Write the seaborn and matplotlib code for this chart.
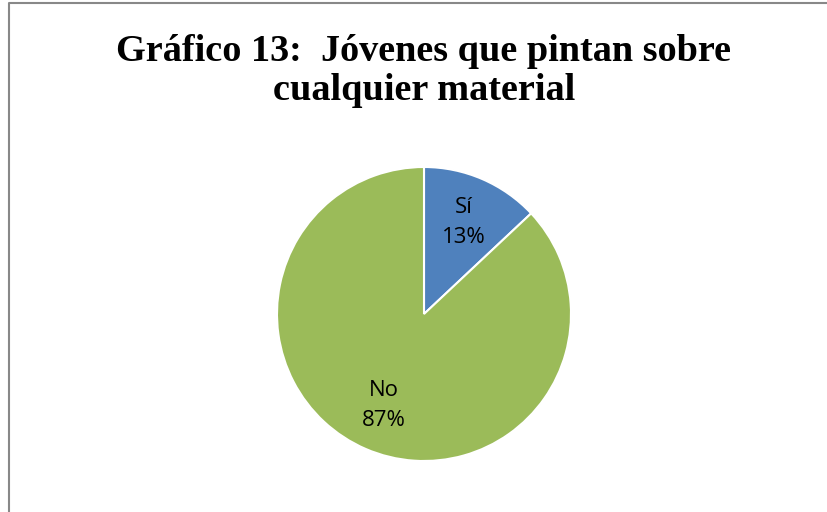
import matplotlib
matplotlib.use("Agg")
import matplotlib.pyplot as plt
from matplotlib.lines import Line2D
import seaborn as sns

categories = ["Sí", "No"]
values = [13, 87]
colors = ["#4F81BD", "#9BBB59"]
title = "Gráfico 13:  Jóvenes que pintan sobre\ncualquier material"

sns.set_theme(style="white")
plt.rcParams['font.family'] = ['Open Sans', 'DejaVu Sans']

fig = plt.figure(figsize=(8.27, 5.12), dpi=100)
fig.patch.set_facecolor("white")

W, H = 827, 512
cx, cy, r = 424, 314, 147
ax = fig.add_axes([(cx - r) / W, (H - cy - r) / H, 2 * r / W, 2 * r / H])

labels = [f"{c}\n{v}%" for c, v in zip(categories, values)]
wedges, texts = ax.pie(values, labels=labels, colors=colors, startangle=90,
                       counterclock=False, labeldistance=0.68,
                       wedgeprops=dict(edgecolor="white", linewidth=1.5),
                       textprops=dict(fontsize=16, color="black", ha="center",
                                      va="center", linespacing=1.55))
ax.set_xlim(-1, 1)
ax.set_ylim(-1, 1)
ax.axis("off")

fig.text(cx / W, 1 - 71 / H, title, ha="center", va="center",
         fontsize=27.5, fontweight="bold", family=["Liberation Serif"],
         color="black", linespacing=1.18)

lx = 9 / W
ty = 1 - 3 / H
fig.add_artist(Line2D([lx, lx, 1], [0, ty, ty], transform=fig.transFigure,
                      color="#888888", linewidth=1.5))

fig.savefig("out.png", dpi=100)
